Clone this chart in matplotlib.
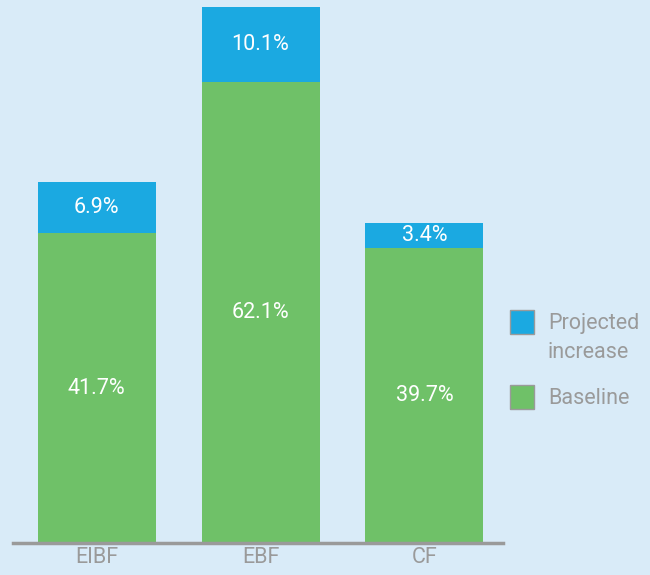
import matplotlib
matplotlib.use("Agg")
import matplotlib.pyplot as plt
from matplotlib.patches import Rectangle

plt.rcParams["font.family"] = ["Roboto", "DejaVu Sans"]

categorias = ["EIBF", "EBF", "CF"]
baseline = [41.7, 62.1, 39.7]
aumento = [6.9, 10.1, 3.4]
legenda = ["Projected\nincrease", "Baseline"]

FUNDO = "#d9ebf8"
VERDE = "#6fc168"
AZUL = "#1ba9e1"
CINZA = "#9a9a9a"

fig = plt.figure(figsize=(6.5, 5.75), dpi=100, facecolor=FUNDO)
ax = fig.add_axes([0.02, 0.0557, 0.754, 0.932], facecolor=FUNDO)

x = range(len(categorias))
b1 = ax.bar(x, baseline, width=0.72, color=VERDE, zorder=2)
b2 = ax.bar(x, aumento, width=0.72, bottom=baseline, color=AZUL, zorder=2)

for barras in (b1, b2):
    for r in barras:
        h = r.get_height()
        ax.text(r.get_x() + r.get_width() / 2, r.get_y() + h / 2, f"{h:.1f}%",
                ha="center", va="center", color="white", fontsize=15.5)

ax.set_xlim(-0.51, 2.48)
ax.set_ylim(0, 72.2)
ax.set_xticks(list(x))
ax.set_xticklabels(categorias, color=CINZA, fontsize=15.5)
ax.tick_params(axis="x", length=0, pad=3)
ax.set_yticks([])
for lado in ("top", "right", "left"):
    ax.spines[lado].set_visible(False)
ax.spines["bottom"].set_color(CINZA)
ax.spines["bottom"].set_linewidth(2.5)
ax.spines["bottom"].set_zorder(3)

# legenda desenhada à mão: quadrado alinhado com a primeira linha do texto
w, h = 24 / 650, 24 / 575
for (cor, texto, ytopo) in [(AZUL, legenda[0], 1 - 310 / 575),
                            (VERDE, legenda[1], 1 - 385 / 575)]:
    fig.add_artist(Rectangle((0.785, ytopo - h), w, h, facecolor=cor,
                             edgecolor=CINZA, linewidth=1,
                             transform=fig.transFigure))
    fig.text(0.843, ytopo - 0.005, texto, ha="left", va="top", color=CINZA,
             fontsize=15.5, linespacing=1.5)

fig.savefig("out.png", dpi=100, facecolor=FUNDO)
